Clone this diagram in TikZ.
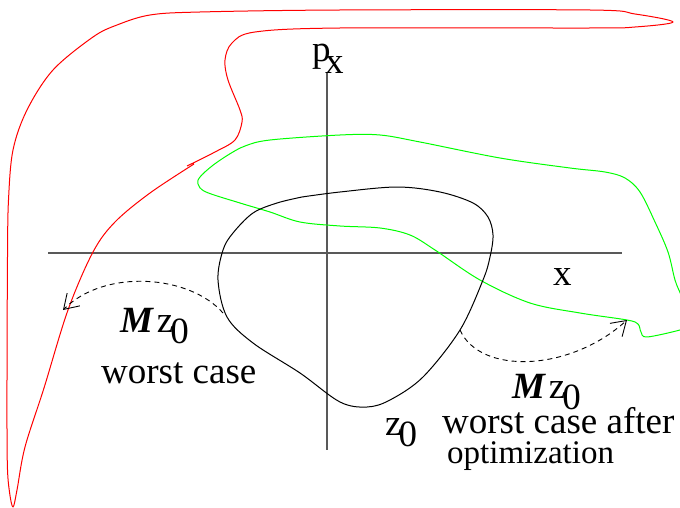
\documentclass[tikz,border=0pt]{standalone}
\usepackage{fontspec}
\setmainfont{Liberation Serif}
\usetikzlibrary{arrows.meta}
\tikzset{
  axisline/.style={draw=black!65, line width=1.3pt},
  setline/.style={line width=1pt, line join=round},
  setred/.style={setline, draw=red},
  setgreen/.style={setline, draw=green},
  setblack/.style={setline, draw=black},
  mapto/.style={draw=black, line width=0.9pt, dash pattern=on 5pt off 4pt,
                -{Straight Barb[length=14pt,width=18pt,line width=0.9pt]}},
  bigtxt/.style={font=\fontsize{37}{40}\selectfont, inner sep=0pt, anchor=base west},
  smalltxt/.style={font=\fontsize{33}{36}\selectfont, inner sep=0pt, anchor=base west},
}
\newcommand{\lowsub}[1]{\kern-0.08em\raisebox{-0.3em}{#1}}
\newcommand{\Mzo}{{\bfseries\itshape M}\kern0.1em z\lowsub{0}}

\begin{document}
\begin{tikzpicture}[x=1pt,y=-1pt]
    \useasboundingbox (0,0) rectangle (680,508);

      \coordinate (xleft) at (48,253);
      \coordinate (xright) at (622,253);
      \coordinate (ptop) at (327,72);
      \coordinate (pbot) at (327,450);
      \draw[axisline] (xleft) -- (xright);
      \draw[axisline] (ptop) -- (pbot);

      \draw[setred] plot[smooth, tension=0.55] coordinates {
        (194,164) (150,193) (115,222) (93,252) (68,310) (44,388) (25,447)
        (17,490) (13,507) (9.5,492) (7.3,463) (7,380) (7.5,257) (8.5,200)
        (13,150) (27,110) (53,70) (93,37) (117,25) (150,15) (200,12) (340,10)
        (590,10) (635,14) (673,22) (635,27) (590,28) (340,28) (255,32)
        (232,43) (225,60) (228,80) (240,110) (242,122) (235,140) (215,152)
        (187,166)};

      \draw[setgreen] plot[smooth, tension=0.55] coordinates {
        (686,310) (681,295) (675,280) (668,252) (655,222) (640,192) (625,178)
        (605,172) (570,168) (500,158) (420,142) (380,135) (340,135) (270,140)
        (245,146) (228,155) (212,166) (200,177) (198,184) (206,192) (240,203)
        (270,212) (300,222) (340,226) (380,228) (410,235) (435,250) (480,280)
        (530,303) (580,313) (627,320) (638,324) (641,332) (647,337) (680,330)
        (688,326)};

      \draw[setblack] plot[smooth, tension=0.55] coordinates {
        (302,197) (340,192) (397,187) (440,192) (473,203) (488,217) (493,235)
        (490,257) (483,280) (460,330) (423,377) (390,400) (367,407) (340,402)
        (300,373) (253,343) (227,317) (218,280) (223,250) (233,233) (253,213)
        (277,203) (302,197)};

      \coordinate (wcfrom) at (223,313);
      \coordinate (wcto) at (63,310);
      \coordinate (optfrom) at (460,330);
      \coordinate (optto) at (627,320);
      \draw[mapto] (wcfrom) .. controls (190,275) and (105,268) .. (wcto);
      \draw[mapto] (optfrom) .. controls (480,375) and (570,372) .. (optto);

      \node[bigtxt] (pxlbl) at (312,62) {p\kern-0.07em\lowsub{x}};
      \node[bigtxt] (xlbl) at (553,285) {x};
      \node[bigtxt] (mzleft) at (120,332) {\Mzo};
      \node[bigtxt] (wclbl) at (101,383) {worst case};
      \node[bigtxt] (zlbl) at (385,435) {z\lowsub{0}};
      \node[bigtxt] (mzright) at (512,398) {\Mzo};
      \node[bigtxt] (wcalbl) at (442,433) {worst case after};
      \node[smalltxt] (optlbl) at (447,463) {optimization};

    \end{tikzpicture}
\end{document}
